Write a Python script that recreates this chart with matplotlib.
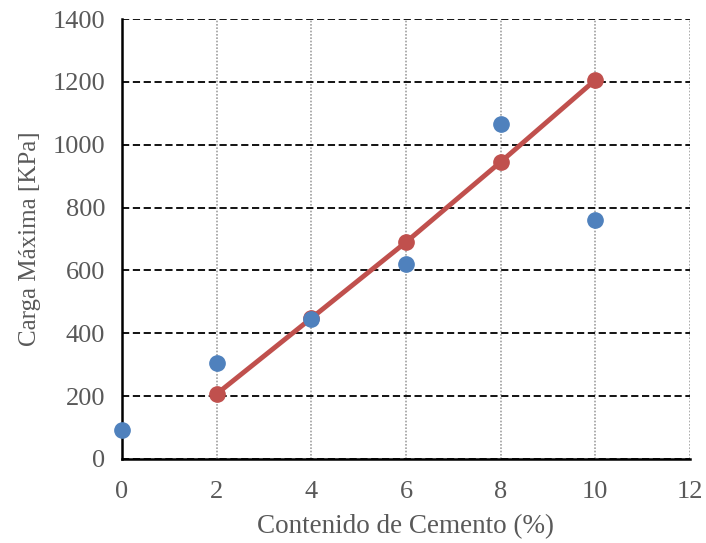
import matplotlib
matplotlib.use('Agg')
import matplotlib.pyplot as plt

# measured data (blue) and fitted line (red)
cemento = [0, 2, 4, 6, 8, 10]
carga = [92, 305, 445, 620, 1066, 760]
cemento_fit = [2, 4, 6, 8, 10]
carga_fit = [207, 448, 690, 945, 1206]

xticks = [0, 2, 4, 6, 8, 10, 12]
yticks = [0, 200, 400, 600, 800, 1000, 1200, 1400]

plt.rcParams['font.family'] = ['Liberation Serif', 'DejaVu Serif']
gris = '#595959'

fig = plt.figure(figsize=(7.06, 5.43), dpi=100)
ax = fig.add_axes([0.1728, 0.1547, 0.8045, 0.8103])

ax.plot(cemento_fit, carga_fit, color='#c0504d', lw=3.5, marker='o',
        ms=11, zorder=3)
ax.plot(cemento, carga, 'o', color='#4f81bd', ms=11, zorder=4, clip_on=False)

ax.set_xlim(0, 12)
ax.set_ylim(0, 1400)
ax.set_xticks(xticks)
ax.set_yticks(yticks)

ax.yaxis.grid(True, color='black', ls=(0, (4, 2)), lw=1.3)
ax.xaxis.grid(True, color='#a0a0a0', ls=(0, (1, 1)), lw=1.2)
ax.set_axisbelow(True)

for s in ['top', 'right']:
    ax.spines[s].set_visible(False)
ax.spines['left'].set_linewidth(1.8)
ax.spines['bottom'].set_linewidth(1.8)

ax.tick_params(length=0, labelsize=19, colors=gris)
ax.tick_params(axis='x', pad=16)
ax.tick_params(axis='y', pad=12)
ax.set_xlabel('Contenido de Cemento (%)', fontsize=19.5, color=gris, labelpad=8)
ax.set_ylabel('Carga Máxima [KPa]', fontsize=18, color=gris, labelpad=8)

fig.savefig('out.png', dpi=100)
